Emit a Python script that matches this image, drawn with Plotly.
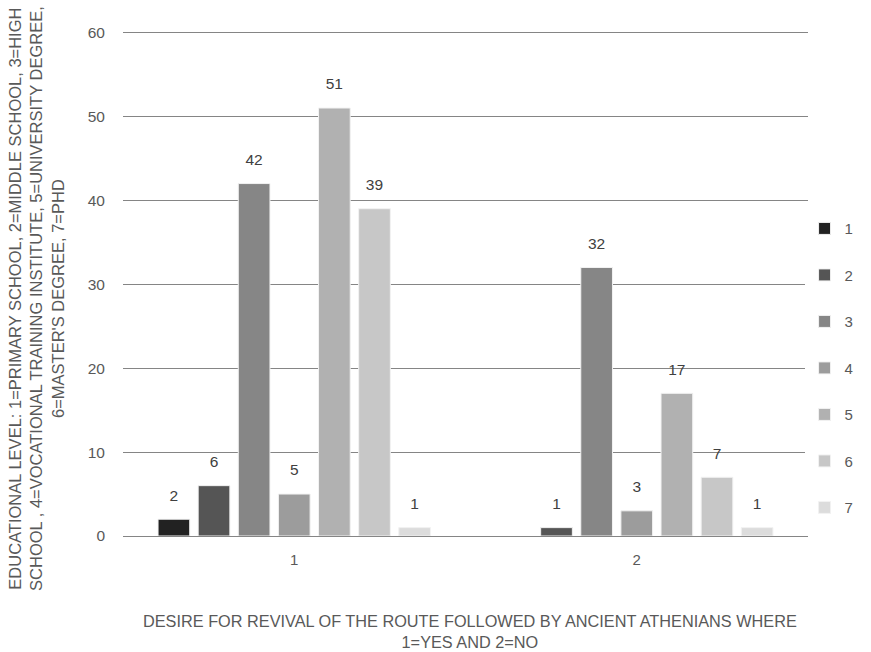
import plotly.graph_objects as go

# Survey counts: desire for revival (1=yes, 2=no) by educational level
categories = ["1", "2"]
levels = ["1", "2", "3", "4", "5", "6", "7"]
counts = {
    "1": [2, None],
    "2": [6, 1],
    "3": [42, 32],
    "4": [5, 3],
    "5": [51, 17],
    "6": [39, 7],
    "7": [1, 1],
}
shades = ["#222222", "#555555", "#868686", "#9c9c9c", "#b1b1b1", "#c7c7c7", "#dcdcdc"]
y_ticks = [0, 10, 20, 30, 40, 50, 60]

FONT = "Liberation Sans"
TXT = "#595959"
GRID = "#858585"
BARGAP = 0.18

fig = go.Figure()
for lvl, col in zip(levels, shades):
    vals = counts[lvl]
    fig.add_trace(go.Bar(
        name=lvl,
        x=categories,
        y=vals,
        marker=dict(color=col, line=dict(color="#f2f2f2", width=1)),
        legendgroup=lvl,
        hoverinfo="skip",
    ))

# value labels, grouped to sit over their bars
for lvl in levels:
    vals = counts[lvl]
    fig.add_trace(go.Scatter(
        x=categories,
        y=vals,
        mode="markers+text",
        marker=dict(size=22, opacity=0),
        text=[("" if v is None else str(v)) for v in vals],
        textposition="top center",
        textfont=dict(family=FONT, size=15.5, color="#404040"),
        cliponaxis=False,
        showlegend=False,
        hoverinfo="skip",
    ))

# top gridline at the end of the value range
fig.add_shape(type="line", xref="paper", yref="y", x0=0, x1=1, y0=y_ticks[-1], y1=y_ticks[-1],
              line=dict(color=GRID, width=1), layer="below")

fig.update_layout(
    width=871, height=652,
    margin=dict(l=123, r=56, t=32, b=116),
    paper_bgcolor="white", plot_bgcolor="white",
    barmode="group", bargap=BARGAP, bargroupgap=0.21,
    scattermode="group", scattergap=BARGAP,
    font=dict(family=FONT, size=15, color=TXT),
    showlegend=True,
    legend=dict(
        x=0.995, xanchor="left", y=0.333, yanchor="middle",
        tracegroupgap=24, itemwidth=30,
        font=dict(family=FONT, size=15, color=TXT),
    ),
    xaxis=dict(
        type="category", showgrid=False, ticks="", showline=False,
        ticklabelstandoff=13,
        tickfont=dict(family=FONT, size=15, color=TXT),
    ),
    yaxis=dict(
        range=[0, 60.06], tickvals=y_ticks,
        showgrid=True, gridcolor=GRID, gridwidth=1,
        zeroline=True, zerolinecolor=GRID, zerolinewidth=1,
        ticks="", ticklabelstandoff=17,
        tickfont=dict(family=FONT, size=15.5, color=TXT),
    ),
    annotations=[
        dict(
            text="DESIRE FOR REVIVAL OF THE ROUTE FOLLOWED BY ANCIENT ATHENIANS WHERE<br>1=YES AND 2=NO",
            xref="paper", yref="paper", x=0.507, y=-0.146, xanchor="center", yanchor="top",
            showarrow=False, font=dict(family=FONT, size=16.3, color=TXT),
        ),
        dict(
            text="EDUCATIONAL LEVEL: 1=PRIMARY SCHOOL, 2=MIDDLE SCHOOL, 3=HIGH<br>"
                 "SCHOOL , 4=VOCATIONAL TRAINING INSTITUTE, 5=UNIVERSITY DEGREE,<br>"
                 "6=MASTER'S DEGREE, 7=PHD",
            xref="paper", yref="paper", x=-0.174, y=0.471, xanchor="left", yanchor="middle",
            textangle=-90, showarrow=False, font=dict(family=FONT, size=16.5, color=TXT),
        ),
    ],
)

fig.write_html("out.html")
